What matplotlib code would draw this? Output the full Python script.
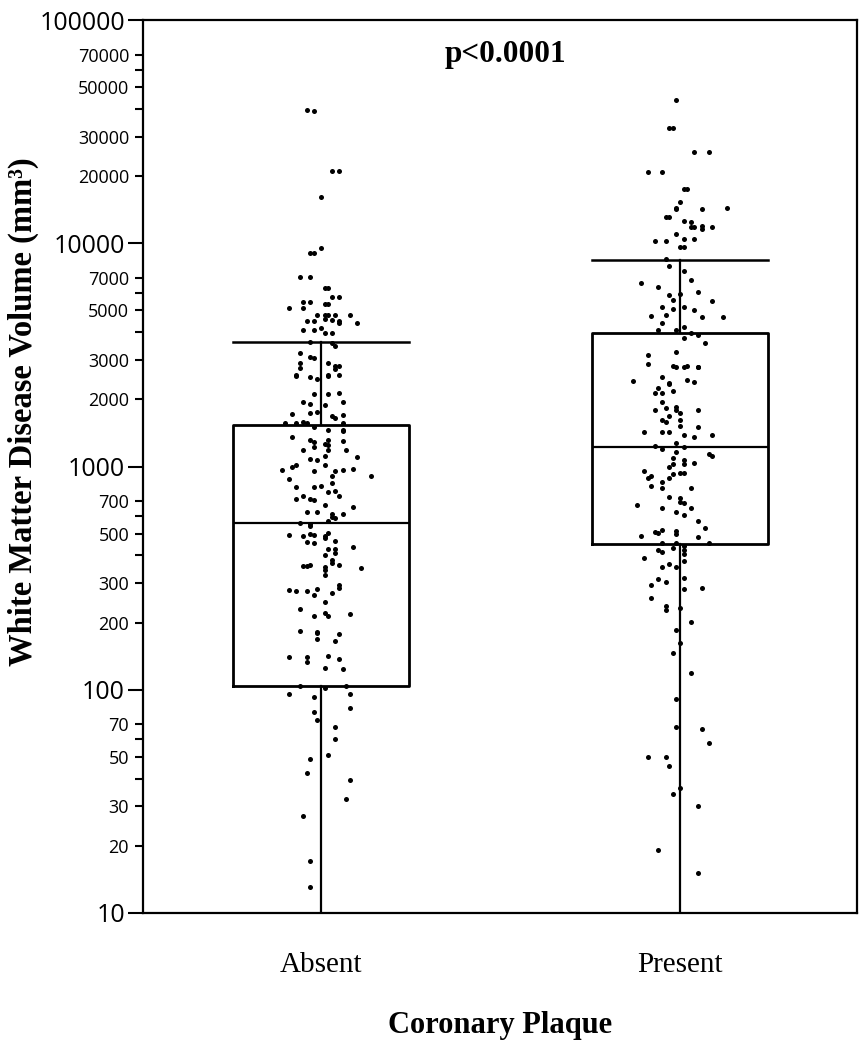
import numpy as np
import matplotlib
matplotlib.use("Agg")
import matplotlib.pyplot as plt

plt.rcParams["font.family"] = ["Open Sans", "DejaVu Sans"]
SERIF = "Liberation Serif"

GROUPS = ["Absent", "Present"]

# box statistics
Q1 = [104, 450]
MED = [558, 1223]
Q3 = [1540, 3960]
WHI_LO = [10, 10]
WHI_HI = [3610, 8410]

# individual patients: value and horizontal jitter (category units)
absent_val = [39500, 39000, 21100, 21100, 16100, 9040, 9040, 9530, 7060, 7060,
              6310, 6310, 5740, 5740, 5460, 5460, 5350, 5350, 5130, 5130,
              4770, 4770, 4770, 4770, 4770, 4490, 4490, 4580, 4540, 4400,
              4490, 4390, 4080, 4080, 4170, 3960, 3960, 3610, 3570, 3470,
              3220, 3090, 3060, 2910, 2910, 2760, 2820, 2820, 2730, 2570,
              2550, 2530, 2570, 2550, 2570, 2470, 2110, 2110, 2130, 1950,
              1900, 1880, 1950, 1740, 1760, 1720, 1690, 1650, 1700, 1570,
              1570, 1590, 1570, 1570, 1500, 1460, 1460, 1440, 1360, 1320,
              1290, 1320, 1260, 1250, 1300, 1190, 1220, 1190, 1190, 1100,
              1120, 1080, 1070, 965, 1000, 1015, 950, 1015, 950, 965,
              975, 906, 906, 880, 809, 809, 820, 840, 769, 780,
              714, 735, 714, 705, 735, 660, 670, 625, 625, 615,
              594, 590, 615, 558, 550, 570, 540, 493, 488, 500,
              493, 488, 505, 480, 459, 455, 462, 435, 427, 427,
              410, 400, 381, 370, 358, 358, 362, 355, 345, 362,
              352, 327, 295, 285, 280, 276, 276, 266, 283, 270,
              247, 229, 214, 221, 214, 219, 183, 181, 179, 177,
              168, 165, 140, 140, 133, 141, 138, 125, 124, 104,
              102, 104, 95.7, 92.9, 95.7, 82.8, 79.4, 73.1, 68, 60,
              51, 49, 42.4, 39.4, 32.4, 27.2, 17.1, 13.1]
absent_dx = [-0.04, -0.02, 0.03, 0.05, 0.00, -0.03, -0.02, 0.00, -0.06, -0.03,
             0.01, 0.02, 0.03, 0.05, -0.05, -0.03, 0.01, 0.02, -0.09, -0.05,
             -0.01, 0.01, 0.02, 0.04, 0.08, -0.04, -0.02, 0.01, 0.03, 0.05,
             0.05, 0.10, -0.05, -0.02, 0.00, 0.01, 0.03, -0.03, 0.03, 0.04,
             -0.06, -0.03, -0.02, 0.02, -0.06, -0.06, 0.04, 0.05, 0.04, -0.07,
             -0.07, -0.03, 0.02, 0.02, 0.05, -0.01, -0.02, 0.02, 0.05, -0.05,
             -0.03, 0.01, 0.06, -0.03, -0.01, -0.08, 0.03, 0.04, 0.06, -0.10,
             -0.07, -0.05, -0.04, 0.06, -0.02, 0.02, 0.06, 0.06, -0.08, -0.03,
             -0.02, 0.02, 0.01, 0.02, 0.06, -0.05, -0.02, 0.02, 0.07, 0.10,
             0.01, -0.03, -0.01, -0.11, -0.08, -0.07, -0.02, 0.01, 0.04, 0.06,
             0.09, 0.14, 0.03, -0.09, -0.07, -0.02, 0.00, 0.03, 0.02, 0.04,
             -0.07, -0.05, -0.03, -0.02, 0.05, 0.09, 0.01, -0.04, -0.01, 0.03,
             0.03, 0.04, 0.06, -0.06, -0.03, 0.02, -0.03, -0.09, -0.05, -0.03,
             -0.02, 0.01, 0.02, 0.01, -0.04, -0.02, 0.04, 0.09, 0.02, 0.04,
             0.04, 0.01, 0.03, 0.03, -0.05, -0.04, -0.03, 0.01, 0.01, 0.05,
             0.11, 0.01, 0.05, 0.05, -0.09, -0.07, -0.04, -0.02, -0.01, 0.03,
             0.01, -0.06, -0.02, 0.01, 0.02, 0.08, -0.06, -0.01, -0.01, 0.05,
             -0.01, 0.04, -0.09, -0.04, -0.04, 0.02, 0.05, 0.01, 0.06, -0.06,
             0.01, 0.07, -0.09, -0.02, 0.08, 0.08, -0.02, -0.01, 0.04, 0.04,
             0.02, -0.03, -0.04, 0.08, 0.07, -0.05, -0.03, -0.03]

present_val = [43800, 32800, 32800, 25600, 25600, 20800, 20800, 17500, 17500, 15300,
               14200, 14400, 14200, 14400, 13100, 13100, 12600, 12400, 11800, 11800,
               11900, 11800, 11600, 11000, 10500, 10500, 10200, 10200, 9620, 9620,
               8490, 7900, 7510, 6850, 6630, 6370, 6050, 5870, 5950, 5570,
               5500, 5180, 5180, 5100, 5040, 4720, 4760, 4650, 4690, 4400,
               4080, 4080, 4230, 3980, 3900, 3760, 3570, 3160, 3260, 2880,
               2820, 2780, 2800, 2820, 2780, 2780, 2420, 2530, 2370, 2330,
               2440, 2400, 2250, 2180, 2130, 2130, 1950, 1790, 1820, 1840,
               1800, 1740, 1800, 1620, 1590, 1620, 1680, 1500, 1520, 1430,
               1430, 1430, 1390, 1390, 1350, 1280, 1240, 1220, 1200, 1160,
               1140, 1120, 1090, 1070, 1030, 1040, 1030, 995, 936, 936,
               930, 950, 906, 890, 890, 850, 818, 800, 800, 730,
               725, 692, 687, 670, 650, 650, 625, 607, 570, 530,
               509, 503, 520, 515, 498, 489, 484, 454, 454, 454,
               440, 423, 432, 414, 423, 405, 390, 378, 367, 355,
               355, 318, 315, 303, 294, 283, 286, 258, 236, 228,
               232, 201, 185, 162, 146, 119, 91, 68, 66.7, 57.7,
               50, 50, 45.5, 36.3, 34.1, 30.1, 19.1, 15.1]
present_dx = [-0.01, -0.03, -0.02, 0.04, 0.08, -0.09, -0.05, 0.01, 0.02, 0.00,
              -0.01, -0.01, 0.06, 0.13, -0.04, -0.03, 0.01, 0.03, 0.03, 0.04,
              0.06, 0.09, 0.06, -0.01, 0.01, 0.04, -0.07, -0.04, 0.00, 0.01,
              -0.04, -0.03, 0.01, 0.03, -0.11, -0.06, 0.05, -0.03, 0.00, -0.02,
              0.09, -0.05, 0.01, -0.02, 0.04, -0.08, -0.04, 0.06, 0.12, -0.05,
              -0.06, -0.01, 0.01, 0.03, 0.05, 0.01, 0.07, -0.09, -0.01, -0.09,
              -0.02, -0.01, 0.01, 0.02, 0.05, 0.05, -0.13, -0.05, -0.03, -0.03,
              0.02, 0.04, -0.06, -0.02, -0.07, -0.05, -0.05, -0.07, -0.04, -0.01,
              -0.01, 0.00, 0.05, -0.05, -0.04, 0.00, -0.03, 0.05, 0.00, -0.10,
              -0.05, -0.03, 0.01, 0.09, 0.04, -0.01, -0.07, 0.01, -0.05, -0.01,
              0.08, 0.09, -0.02, 0.01, 0.01, 0.04, -0.02, -0.03, 0.00, 0.01,
              -0.02, -0.10, -0.08, -0.09, -0.03, -0.05, -0.08, -0.05, 0.03, -0.03,
              0.00, 0.00, 0.01, -0.12, -0.05, 0.03, -0.01, 0.01, 0.05, 0.07,
              -0.07, -0.06, -0.05, -0.01, -0.01, -0.11, 0.05, -0.05, -0.01, 0.08,
              0.01, -0.06, -0.02, -0.05, 0.01, 0.01, -0.10, 0.01, -0.03, -0.05,
              -0.01, 0.01, -0.06, -0.04, -0.08, 0.01, 0.06, -0.08, -0.04, -0.04,
              0.00, 0.03, -0.01, 0.00, -0.02, 0.03, -0.01, -0.01, 0.06, 0.08,
              -0.09, -0.04, -0.03, 0.00, -0.02, 0.05, -0.06, 0.05]

MAJOR = [10, 100, 1000, 10000, 100000]
MINOR = [20, 30, 40, 50, 60, 70, 200, 300, 400, 500, 600, 700,
         2000, 3000, 4000, 5000, 6000, 7000, 20000, 30000, 40000, 50000, 60000, 70000]
MINOR_LAB = ["20", "30", "", "50", "", "70", "200", "300", "", "500", "", "700",
             "2000", "3000", "", "5000", "", "7000", "20000", "30000", "", "50000", "", "70000"]

fig = plt.figure(figsize=(8.59, 10.5), dpi=100)
ax = fig.add_axes([143 / 859, 137 / 1050, 714 / 859, 893 / 1050])
ax.set_yscale("log")

stats = [dict(med=MED[i], q1=Q1[i], q3=Q3[i], whislo=WHI_LO[i], whishi=WHI_HI[i], label=g)
         for i, g in enumerate(GROUPS)]
ax.bxp(stats, positions=[1, 2], widths=0.49, capwidths=0.49, showfliers=False,
       boxprops=dict(color="black", lw=2.0),
       medianprops=dict(color="black", lw=1.6),
       whiskerprops=dict(color="black", lw=1.6),
       capprops=dict(color="black", lw=1.8))

ax.scatter(1 + np.array(absent_dx), absent_val, s=13, color="black", zorder=5, linewidths=0)
ax.scatter(2 + np.array(present_dx), present_val, s=13, color="black", zorder=5, linewidths=0)

ax.set_xlim(0.504, 2.493)
ax.set_ylim(10, 100000)
ax.set_yticks(MAJOR, labels=[str(v) for v in MAJOR])
ax.set_yticks(MINOR, labels=MINOR_LAB, minor=True)
ax.tick_params(axis="y", which="major", length=11, width=1.5, labelsize=18, pad=2)
ax.tick_params(axis="y", which="minor", length=6, width=1.5, labelsize=13, pad=4)
ax.set_xticks([1, 2], labels=GROUPS)
ax.tick_params(axis="x", length=0, pad=28)
for t in ax.get_xticklabels():
    t.set_fontfamily(SERIF)
    t.set_fontsize(21)
for s in ax.spines.values():
    s.set_linewidth(1.6)

ax.set_xlabel("Coronary Plaque", fontfamily=SERIF, fontweight="bold", fontsize=22, labelpad=24)
ax.set_ylabel("White Matter Disease Volume (mm³)", fontfamily=SERIF, fontweight="bold", fontsize=23.5)
ax.yaxis.set_label_coords(-0.146, 0.561)
ax.text(0.507, 0.961, "p<0.0001", transform=ax.transAxes, ha="center", va="center",
        fontfamily=SERIF, fontweight="bold", fontsize=22.5)

fig.savefig("out.png", dpi=100)
